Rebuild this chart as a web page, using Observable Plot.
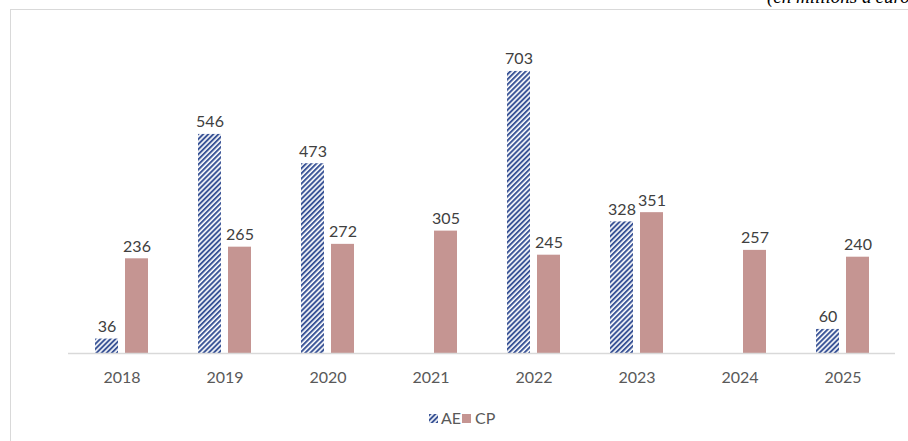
<!DOCTYPE html>
<html>
<head>
<meta charset="utf-8">
<script src="https://cdn.jsdelivr.net/npm/d3@7"></script>
<script src="https://cdn.jsdelivr.net/npm/@observablehq/plot@0.6"></script>
<style>
  html, body { margin: 0; padding: 0; background: #fff; }
  #wrap { position: relative; width: 908px; height: 441px; overflow: hidden; font-family: Lato, "Open Sans", sans-serif; }
  #frame { position: absolute; left: 10px; top: 9px; width: 920px; height: 460px; border: 1px solid #d9d9d9; box-sizing: border-box; }
  #unit { position: absolute; left: 767px; top: -12px; font-family: "Liberation Serif", "DejaVu Serif", serif; font-style: italic; font-size: 19px; line-height: 18px; color: #000; white-space: nowrap; }
  #chart { position: absolute; left: 0; top: 0; }
  #legend { position: absolute; left: 0; top: 409px; width: 908px; height: 20px; }
  .item { position: absolute; top: 0; font-size: 16px; line-height: 18px; color: #595959; }
  .sw { position: absolute; top: 5px; width: 9px; height: 9px; }
</style>
</head>
<body>
<div id="wrap">
  <div id="frame"></div>
  <div id="unit">(en millions d'euros)</div>
  <div id="chart"></div>
  <div id="legend">
    <svg class="sw" style="left:429px" width="9" height="9"><defs><pattern id="aeLeg" patternUnits="userSpaceOnUse" width="3.6" height="3.6" patternTransform="rotate(45)"><rect width="3.6" height="3.6" fill="#fff"/><rect width="2" height="3.6" fill="#3B5597"/></pattern></defs><rect width="9" height="9" fill="url(#aeLeg)"/></svg>
    <span class="item" style="left:441px">AE</span>
    <div class="sw" style="left:462px;background:#C59592"></div>
    <span class="item" style="left:475px">CP</span>
  </div>
</div>
<script>
const years = ["2018", "2019", "2020", "2021", "2022", "2023", "2024", "2025"];
const seriesNames = ["AE", "CP"];
const aeValues = [36, 546, 473, null, 703, 328, null, 60];
const cpValues = [236, 265, 272, 305, 245, 351, 257, 240];

const ae = years.map((y, i) => ({ year: y, series: seriesNames[0], value: aeValues[i] })).filter(d => d.value != null);
const cp = years.map((y, i) => ({ year: y, series: seriesNames[1], value: cpValues[i] }));

// group band is 53px: AE bar 23px, gap 7px, CP bar 23px
const chart = Plot.plot({
  width: 908,
  height: 395,
  marginLeft: 68,
  marginRight: 13,
  marginTop: 32,
  marginBottom: 42,
  style: { fontFamily: "Lato, 'Open Sans', sans-serif", background: "transparent" },
  x: { domain: years, paddingInner: 0.487, paddingOuter: 0.2435, label: null },
  y: { domain: [0, 800], axis: null },
  marks: [
    Plot.barY(ae, { x: "year", y: "value", insetRight: 30, fill: "url(#aePat)" }),
    Plot.barY(cp, { x: "year", y: "value", insetLeft: 30, fill: "#C59592" }),
    Plot.ruleY([0], { stroke: "#d9d9d9", strokeWidth: 1.5 }),
    Plot.text(ae, {
      x: "year", y: "value", text: d => String(d.value), dx: -15,
      lineAnchor: "bottom", dy: -7, fontSize: 16, fill: "#404040"
    }),
    Plot.text(cp, {
      x: "year", y: "value", text: d => String(d.value), dx: 15,
      lineAnchor: "bottom", dy: -7, fontSize: 16, fill: "#404040"
    }),
    Plot.axisX({ anchor: "bottom", tickSize: 0, tickPadding: 18, fontSize: 16, color: "#595959", label: null })
  ]
});

const ns = "http://www.w3.org/2000/svg";
const svg = chart.tagName.toLowerCase() === "svg" ? chart : chart.querySelector("svg");
const defs = document.createElementNS(ns, "defs");
defs.innerHTML = '<pattern id="aePat" patternUnits="userSpaceOnUse" width="3.6" height="3.6" patternTransform="rotate(45)"><rect width="3.6" height="3.6" fill="#fff"/><rect width="2" height="3.6" fill="#3B5597"/></pattern>';
svg.insertBefore(defs, svg.firstChild);
document.getElementById("chart").appendChild(chart);
</script>
</body>
</html>
